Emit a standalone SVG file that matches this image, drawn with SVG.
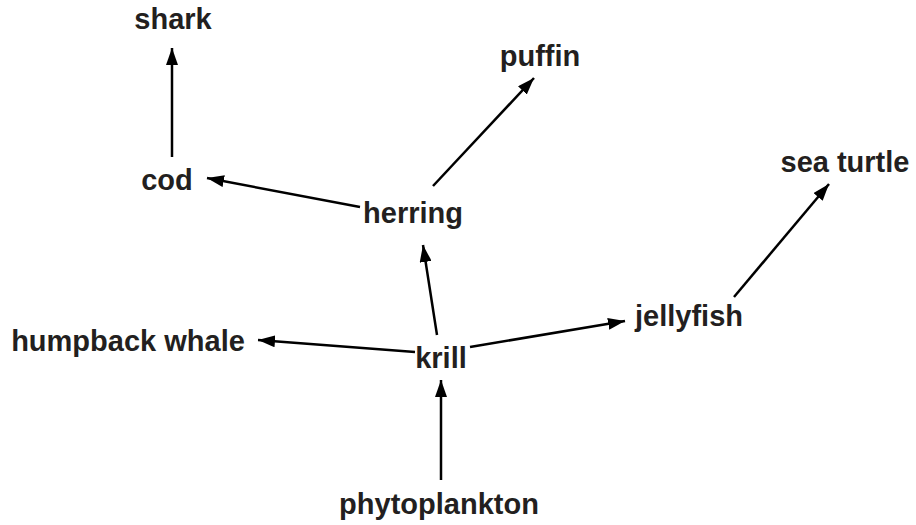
<svg xmlns="http://www.w3.org/2000/svg" width="916" height="525" viewBox="0 0 916 525">
<defs>
<marker id="ah" markerUnits="userSpaceOnUse" markerWidth="18" markerHeight="12" refX="17" refY="6" orient="auto">
<path d="M0,0 L17,6 L0,12 Z" fill="#000"/>
</marker>
<style>
text{font-family:"Liberation Sans",Arial,Helvetica,sans-serif;font-weight:bold;font-size:29px;fill:#231f20;text-anchor:middle}
.e{stroke:#000;stroke-width:2.5;fill:none;marker-end:url(#ah)}
</style>
</defs>
<rect width="916" height="525" fill="#fff"/>
<g id="edges">
<line class="e" x1="441" y1="480" x2="441" y2="380"/>
<line class="e" x1="415" y1="352" x2="258" y2="340"/>
<line class="e" x1="437" y1="335" x2="423" y2="245"/>
<line class="e" x1="470" y1="347" x2="625" y2="321"/>
<line class="e" x1="360" y1="207" x2="207" y2="178"/>
<line class="e" x1="433" y1="186" x2="534" y2="78"/>
<line class="e" x1="172" y1="157" x2="172" y2="48"/>
<line class="e" x1="734" y1="297" x2="829" y2="184"/>
</g>
<g id="shark"><text x="173" y="29">shark</text></g>
<g id="puffin"><text x="540" y="66">puffin</text></g>
<g id="cod"><text x="167" y="190">cod</text></g>
<g id="sea_turtle"><text x="845" y="172">sea turtle</text></g>
<g id="herring"><text x="413" y="223">herring</text></g>
<g id="jellyfish"><text x="689" y="326">jellyfish</text></g>
<g id="humpback_whale"><text x="128" y="351">humpback whale</text></g>
<g id="krill"><text x="441" y="368">krill</text></g>
<g id="phytoplankton"><text x="439" y="514">phytoplankton</text></g>
</svg>
